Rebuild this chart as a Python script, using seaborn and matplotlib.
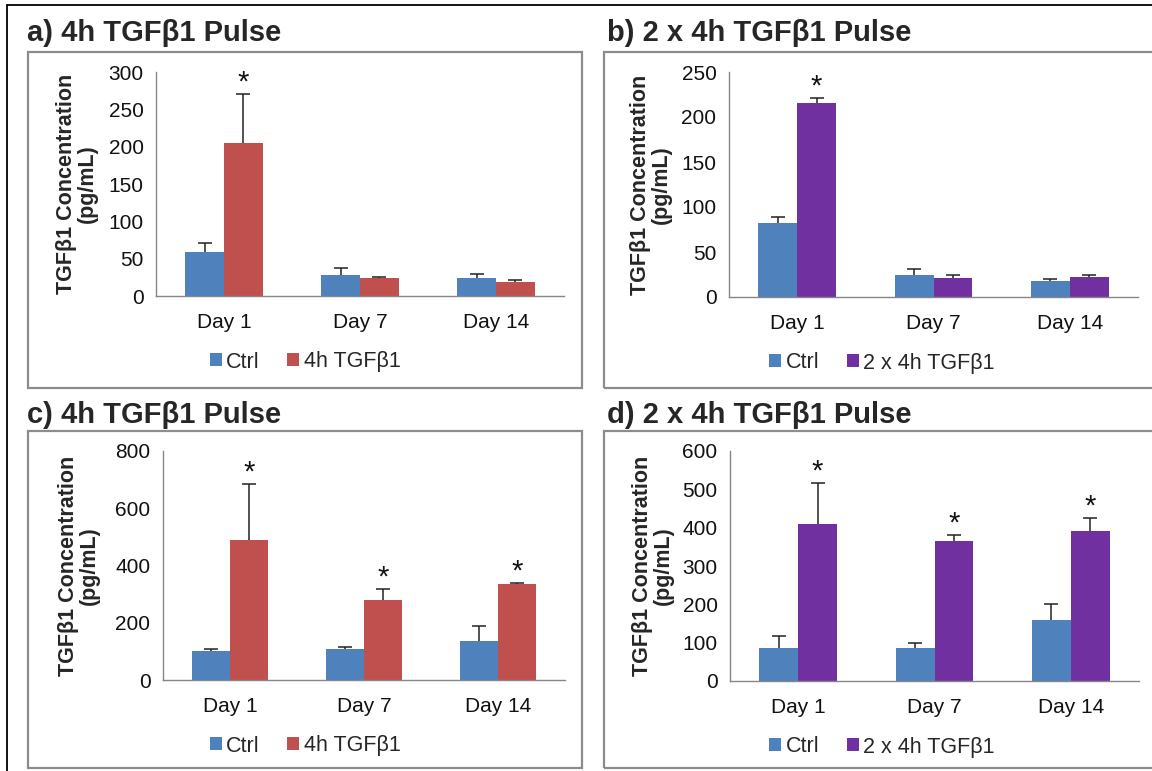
import pandas as pd
import matplotlib.pyplot as plt
import matplotlib.patches as mpatches
import seaborn as sns

# Data
days = ["Day 1", "Day 7", "Day 14"]

a_ctrl = [59, 28, 24]
a_ctrl_err = [12, 10, 6]
a_treat = [205, 24, 19]
a_treat_err = [66, 2, 3]

b_ctrl = [82, 25, 18]
b_ctrl_err = [7, 6, 2]
b_treat = [216, 21, 22]
b_treat_err = [5, 4, 2]

c_ctrl = [103, 107, 135]
c_ctrl_err = [5, 7, 52]
c_treat = [490, 278, 335]
c_treat_err = [195, 40, 3]

d_ctrl = [85, 85, 160]
d_ctrl_err = [32, 15, 40]
d_treat = [410, 365, 392]
d_treat_err = [107, 15, 33]

sig_a = [True, False, False]
sig_b = [True, False, False]
sig_c = [True, True, True]
sig_d = [True, True, True]

BLUE = "#4F81BD"
RED = "#C0504D"
PURPLE = "#7030A0"
GRAY = "#868686"

sns.set_style("white")
plt.rcParams['font.family'] = ['Liberation Sans', 'DejaVu Sans']

W, H = 1152, 771
fig = plt.figure(figsize=(W / 100, H / 100), dpi=100)


def fx(x):
    return x / W


def fy(y):
    return 1 - y / H


# outer black frame (cut at right / bottom in the original)
fig.patches.append(mpatches.Rectangle((fx(7), fy(780)), fx(1160) - fx(7), fy(5) - fy(780),
                                      transform=fig.transFigure, fill=False,
                                      edgecolor="black", lw=1.3))


def panel(title, tx, ty, box, axrect, ctrl, ctrl_err, treat, treat_err, sig,
          treat_name, color, ymax, ystep, ylab_x):
    bx0, by0, bx1, by1 = box
    fig.patches.append(mpatches.Rectangle((fx(bx0), fy(by1)), fx(bx1) - fx(bx0), fy(by0) - fy(by1),
                                          transform=fig.transFigure, fill=False,
                                          edgecolor="#8c8c8c", lw=1.6))
    fig.text(fx(tx), fy(ty), title, fontsize=21, fontweight="bold", ha="left", va="center")

    x0, y0, x1, y1 = axrect
    ax = fig.add_axes([fx(x0), fy(y1), fx(x1) - fx(x0), fy(y0) - fy(y1)])

    df = pd.DataFrame({
        "day": days * 2,
        "group": ["Ctrl"] * 3 + [treat_name] * 3,
        "value": list(ctrl) + list(treat),
    })
    sns.barplot(data=df, x="day", y="value", hue="group", palette=[BLUE, color],
                errorbar=None, width=0.57, saturation=1, linewidth=0, ax=ax)

    # upper error bars only, Excel style
    for cont, errs in zip(ax.containers, [ctrl_err, treat_err]):
        for bar, e in zip(cont, errs):
            xc = bar.get_x() + bar.get_width() / 2
            eb = ax.errorbar(xc, bar.get_height(), yerr=[[0], [e]], fmt="none",
                             ecolor="#222222", elinewidth=1.1, capsize=5, capthick=1.1)
            eb[1][0].set_visible(False)

    # significance stars over the treated bars
    for bar, e, s in zip(ax.containers[1], treat_err, sig):
        if s:
            xc = bar.get_x() + bar.get_width() / 2
            ax.annotate("*", (xc, bar.get_height() + e), xytext=(0, 2.5),
                        textcoords="offset points", ha="center", va="baseline",
                        fontsize=21, color="#111111")

    ax.set_xlim(-0.5, 2.5)
    ax.set_ylim(0, ymax)
    ax.set_yticks(range(0, ymax + 1, ystep))
    ax.set_xticks([-0.5, 0.5, 1.5, 2.5], minor=True)
    ax.tick_params(axis="x", which="major", length=0, pad=12, labelsize=15, colors="#111111")
    ax.tick_params(axis="x", which="minor", length=6, width=1, color=GRAY, direction="out")
    ax.tick_params(axis="y", length=6, width=1, color=GRAY, direction="out",
                   labelsize=15, labelcolor="#111111", pad=3)
    ax.set_xlabel("")
    ax.set_ylabel("TGFβ1 Concentration\n(pg/mL)", fontsize=15.5, fontweight="bold",
                  linespacing=1.0)
    ax.yaxis.set_label_coords(ylab_x, 0.5)
    for side in ["top", "right"]:
        ax.spines[side].set_visible(False)
    for side in ["left", "bottom"]:
        ax.spines[side].set_color(GRAY)
        ax.spines[side].set_linewidth(1)
    ax.grid(False)

    ax.legend(loc="center", bbox_to_anchor=(fx((bx0 + bx1) / 2), fy(axrect[3] + 66)),
              bbox_transform=fig.transFigure, ncol=2, frameon=False,
              handlelength=0.55, handleheight=0.55, handletextpad=0.2,
              columnspacing=1.3, fontsize=15.5)
    return ax


panel("a) 4h TGFβ1 Pulse", 27, 33, (28, 52, 582, 388), (156, 72, 564, 296),
      a_ctrl, a_ctrl_err, a_treat, a_treat_err, sig_a, "4h TGFβ1", RED, 300, 50, -0.142)
panel("b) 2 x 4h TGFβ1 Pulse", 607, 33, (604, 52, 1160, 388), (729, 72, 1138, 297),
      b_ctrl, b_ctrl_err, b_treat, b_treat_err, sig_b, "2 x 4h TGFβ1", PURPLE, 250, 50, -0.139)
panel("c) 4h TGFβ1 Pulse", 27, 415, (28, 431, 582, 768), (163, 451, 565, 680),
      c_ctrl, c_ctrl_err, c_treat, c_treat_err, sig_c, "4h TGFβ1", RED, 800, 200, -0.157)
panel("d) 2 x 4h TGFβ1 Pulse", 607, 415, (604, 431, 1160, 768), (730, 451, 1139, 681),
      d_ctrl, d_ctrl_err, d_treat, d_treat_err, sig_d, "2 x 4h TGFβ1", PURPLE, 600, 100, -0.137)

plt.savefig("out.png", dpi=100)
